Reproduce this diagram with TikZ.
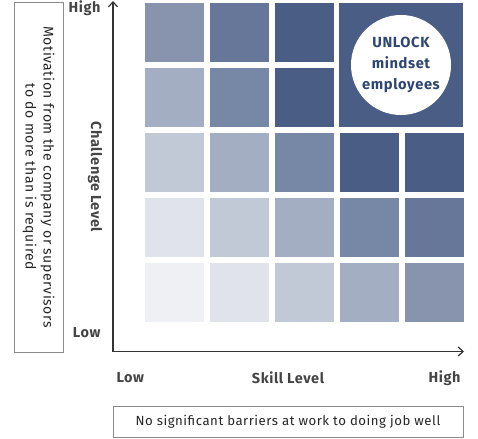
\documentclass[tikz,border=0pt]{standalone}
\usepackage{fontspec}
\setmainfont{Fira Sans}[LetterSpace=4]
\usetikzlibrary{arrows.meta}

\definecolor{lvA}{HTML}{EFF0F4}
\definecolor{lvB}{HTML}{E0E3EB}
\definecolor{lvC}{HTML}{C1C8D6}
\definecolor{lvD}{HTML}{A3AEC3}
\definecolor{lvE}{HTML}{8893AE}
\definecolor{lvF}{HTML}{7787A6}
\definecolor{lvG}{HTML}{667799}
\definecolor{lvH}{HTML}{4A5D85}
\definecolor{unlockblue}{HTML}{2E4672}
\definecolor{labelgray}{HTML}{444444}
\definecolor{boxgray}{HTML}{8A8A8A}

\tikzset{
  cell/.style={rectangle, minimum size=59pt, inner sep=0pt},
  axislabel/.style={font=\bfseries\fontsize{14.5}{17}\selectfont, text=labelgray},
  notebox/.style={draw=boxgray, line width=0.8pt, align=center, inner sep=0pt,
    text=black!85},
  axis/.style={line width=1.2pt, draw=black!80, -{Straight Barb[length=5pt,width=9pt]}}
}

\begin{document}
\begin{tikzpicture}[x=1pt, y=-1pt]
    \useasboundingbox (0,0) rectangle (478,438);

    % Draw grid of squares (row / column / shade)
    \foreach \r/\c/\shade in {1/1/lvE, 1/2/lvG, 1/3/lvH,
                              2/1/lvD, 2/2/lvF, 2/3/lvH,
                              3/1/lvC, 3/2/lvD, 3/3/lvF, 3/4/lvH, 3/5/lvH,
                              4/1/lvB, 4/2/lvC, 4/3/lvD, 4/4/lvF, 4/5/lvG,
                              5/1/lvA, 5/2/lvB, 5/3/lvC, 5/4/lvD, 5/5/lvE}
        \node[cell, fill=\shade] (c\r\c) at ({174.5+65*(\c-1)}, {32.5+65*(\r-1)}) {};

    % Merged top right block
    \node[cell, fill=lvH, minimum size=124pt] (unlockblock) at (401,65) {};
    \node[circle, fill=white, minimum size=100pt, inner sep=0pt, align=center,
          text=unlockblue, font=\bfseries\fontsize{14.7}{21}\selectfont]
        (unlock) at (unlockblock.center) {UNLOCK\\mindset\\employees};

    % Draw axes
    \coordinate (origin) at (113,351.5);
    \coordinate (ytop) at (113,1);
    \coordinate (xend) at (464,351.5);
    \draw[axis] (origin) -- (ytop);
    \draw[axis] (origin) -- (xend);

    % Axis labels
    \node[axislabel, anchor=east] (yhigh) at (104,8) {High};
    \node[axislabel, anchor=east] (ylow) at (104,333) {Low};
    \node[axislabel, rotate=-90] (ylabel) at (95,177) {Challenge Level};
    \node[axislabel, anchor=west] (xlow) at (113,378) {Low};
    \node[axislabel] (xlabel) at (288,378) {Skill Level};
    \node[axislabel, anchor=east] (xhigh) at (464,378) {High};

    % Explanation boxes
    \node[notebox, rotate=-90, minimum width=350pt, minimum height=49pt,
          font=\fontsize{14}{18}\selectfont]
        (motivation) at (38.5,177)
        {Motivation from the company or supervisors\\to do more than is required};
    \node[notebox, minimum width=350pt, minimum height=31pt,
          font=\fontsize{13.2}{16}\selectfont]
        (barriers) at (288,421.5) {No significant barriers at work to doing job well};
\end{tikzpicture}
\end{document}
